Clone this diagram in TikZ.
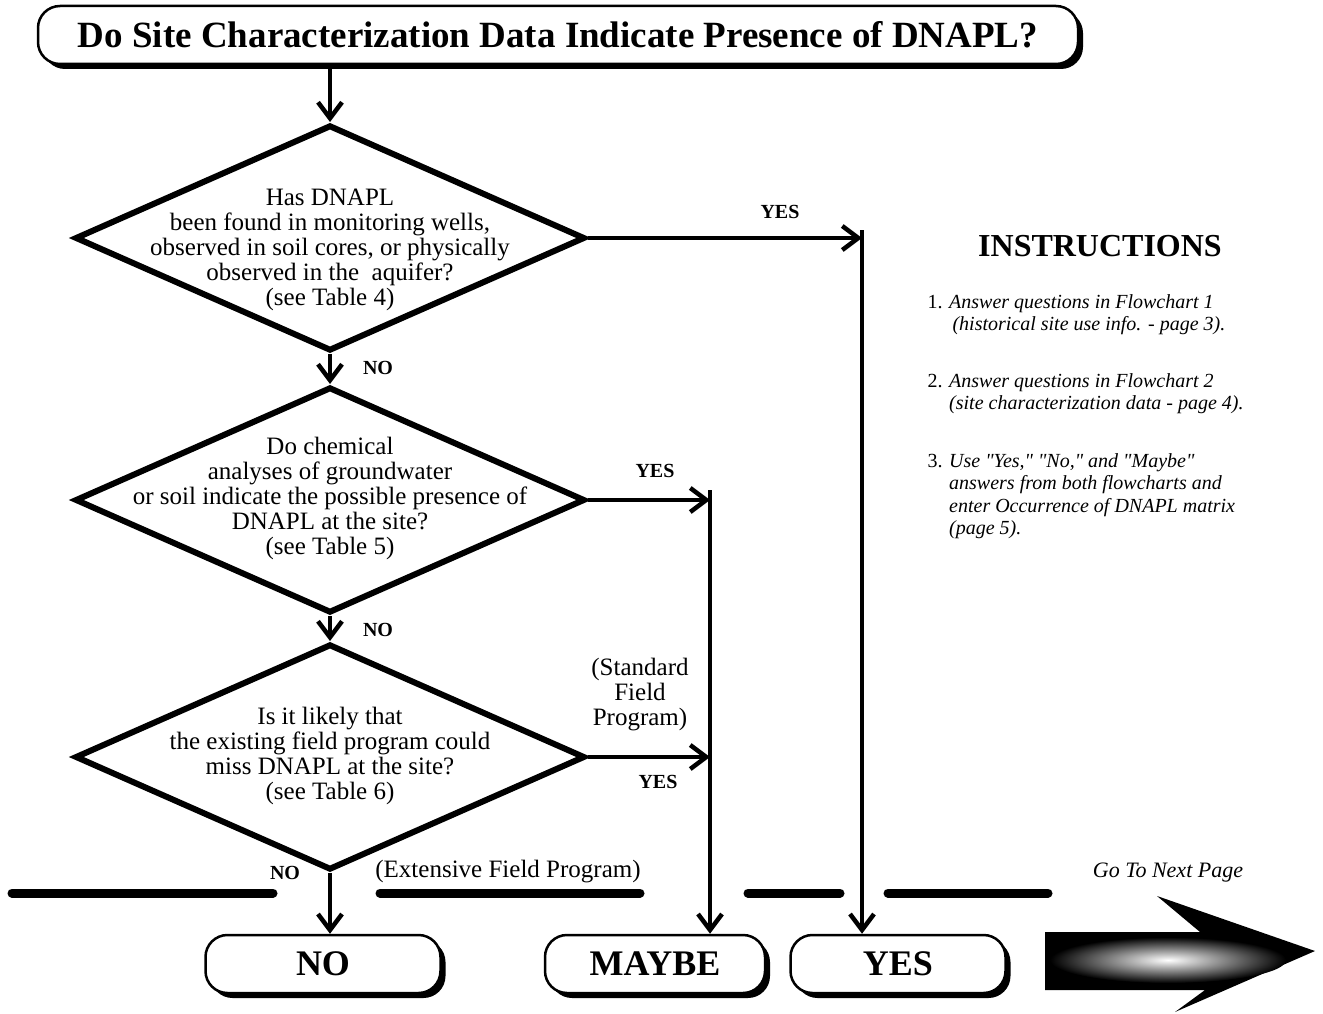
\documentclass[tikz,border=0pt]{standalone}
\usepackage{fontspec}
\setmainfont{Liberation Serif}[Ligatures=TeXOff]
\usetikzlibrary{shapes.geometric, arrows.meta, shadows}
\newcommand{\qtext}[2][0pt]{\raisebox{\dimexpr-6pt-#1\relax}[0pt][0pt]{\makebox[0pt]{\begin{tabular}{@{}c@{}}#2\end{tabular}}}}
\begin{document}
\begin{tikzpicture}[x=1pt, y=-1pt,
  dec/.style={diamond, draw, line width=6pt, minimum width=510pt, minimum height=226pt, inner sep=0pt, font=\fontsize{25}{25}\selectfont},
  term/.style={draw, line width=2.5pt, rounded corners=22pt, fill=white, minimum height=58pt,
    drop shadow={shadow xshift=5pt, shadow yshift=-5pt, fill=black, opacity=1}},
  arr/.style={line width=4pt, -{Straight Barb[length=16pt, width=24pt, line width=4.5pt]}},
  ans/.style={font=\fontsize{20}{20}\selectfont\bfseries},
  note/.style={font=\fontsize{25}{25}\selectfont, align=center},
  bar/.style={line width=9pt, line cap=round},
  instr/.style={anchor=north west, font=\fontsize{20}{22.5}\selectfont}]
  \useasboundingbox (0,0) rectangle (1323,1014);

  % title and decisions
  \node[term, minimum width=1040pt, font=\fontsize{37}{37}\selectfont\bfseries] (title) at (558,35)
    {Do Site Characterization Data Indicate Presence of DNAPL?};
  \node[dec] (q1) at (330,238) {\qtext[13pt]{Has DNAPL\\ been found in monitoring wells,\\ observed in soil cores, or physically\\ observed in the\ \ aquifer?\\ (see Table 4)}};
  \node[dec] (q2) at (330,500) {\qtext{Do chemical\\ analyses of groundwater\\ or soil indicate the possible presence of\\ DNAPL at the site?\\ (see Table 5)}};
  \node[dec] (q3) at (330,757) {\qtext{Is it likely that\\ the existing field program could\\ miss DNAPL at the site?\\ (see Table 6)}};

  % answers
  \node[term, minimum width=235pt, font=\fontsize{36}{36}\selectfont\bfseries] (no) at (323,964) {NO};
  \node[term, minimum width=220pt, font=\fontsize{36}{36}\selectfont\bfseries] (maybe) at (655,964) {MAYBE};
  \node[term, minimum width=215pt, font=\fontsize{36}{36}\selectfont\bfseries] (yes) at (898,964) {YES};

  \coordinate (v1) at (862,230);
  \coordinate (v2) at (710,490);

  % connectors
  \draw[arr] (title.south -| q1.north) -- (q1.north);
  \draw[arr] (q1.south) -- (q2.north);
  \draw[arr] (q2.south) -- (q3.north);
  \draw[arr] (q3.south) -- (q3.south |- no.north);
  \draw[arr] (q1.east) -- (q1.east -| v1);
  \draw[arr] (q2.east) -- (q2.east -| v2);
  \draw[arr] (q3.east) -- (q3.east -| v2);
  \draw[arr] (v1) -- (v1 |- yes.north);
  \draw[arr] (v2) -- (v2 |- maybe.north);

  % labels
  \node[ans] (l1) at (780,212) {YES};
  \node[ans] (l2) at (378,368) {NO};
  \node[ans] (l3) at (655,471) {YES};
  \node[ans] (l4) at (378,630) {NO};
  \node[ans] (l5) at (658,782) {YES};
  \node[ans] (l6) at (285,873) {NO};
  \node[note] (std) at (640,695) {(Standard\\ Field\\ Program)};
  \node[note] (ext) at (508,872) {(Extensive Field Program)};

  % page break bars
  \draw[bar] (12,893) -- (273,893);
  \draw[bar] (380,893) -- (640,893);
  \draw[bar] (748,893) -- (840,893);
  \draw[bar] (888,893) -- (1048,893);

  % instructions
  \node[font=\fontsize{32}{32}\selectfont\bfseries] (instr) at (1100,246) {INSTRUCTIONS};
  \node[instr] (i1) at (924,289) {\begin{tabular}{@{}l@{\,\,}l@{}}1. & \itshape Answer questions in Flowchart 1\\ & \itshape\,(historical site use info. - page 3).\end{tabular}};
  \node[instr] (i2) at (924,368) {\begin{tabular}{@{}l@{\,\,}l@{}}2. & \itshape Answer questions in Flowchart 2\\ & \itshape (site characterization data - page 4).\end{tabular}};
  \node[instr] (i3) at (924,448) {\begin{tabular}{@{}l@{\,\,}l@{}}3. & \itshape Use "Yes," "No," and "Maybe"\\ & \itshape answers from both flowcharts and\\ & \itshape enter Occurrence of DNAPL matrix\\ & \itshape (page 5).\end{tabular}};

  % next page arrow
  \node[font=\fontsize{22}{22}\selectfont\itshape] (next) at (1168,873) {Go To Next Page};
  \fill (1045,932) -- (1200,932) -- (1157,896) -- (1315,951) -- (1175,1012) -- (1205,990) -- (1045,990) -- cycle;
  \shade[inner color=white, outer color=black] (1168,960) ellipse (118 and 23);
\end{tikzpicture}
\end{document}
